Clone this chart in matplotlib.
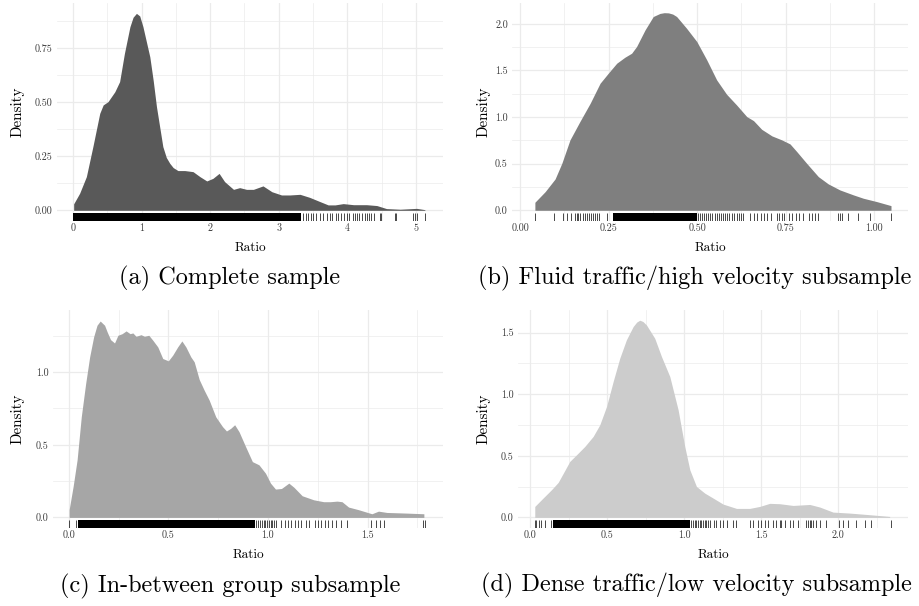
import numpy as np
import matplotlib.pyplot as plt
from matplotlib.transforms import blended_transform_factory

plt.rcParams['font.family'] = 'cmr10'
plt.rcParams['axes.formatter.use_mathtext'] = True

# (a) complete sample
a_x = [0.01, 0.097, 0.195, 0.29, 0.39, 0.44, 0.51, 0.61, 0.68, 0.75, 0.83, 0.876, 0.925, 0.973,
       1.02, 1.12, 1.17, 1.217, 1.31, 1.36, 1.41, 1.46, 1.53, 1.63, 1.75, 1.85, 1.95, 2.04,
       2.13, 2.21, 2.34, 2.43, 2.53, 2.63, 2.77, 2.9, 3.04, 3.16, 3.31, 3.45, 3.58, 3.72,
       3.82, 3.94, 4.09, 4.28, 4.43, 4.57, 4.77, 5.01, 5.13]
a_y = [0.03, 0.079, 0.156, 0.295, 0.449, 0.488, 0.503, 0.549, 0.596, 0.727, 0.85, 0.894, 0.912,
       0.9, 0.85, 0.711, 0.60, 0.48, 0.295, 0.245, 0.218, 0.198, 0.184, 0.184, 0.179, 0.156,
       0.136, 0.148, 0.171, 0.133, 0.097, 0.105, 0.097, 0.097, 0.113, 0.086, 0.071, 0.071,
       0.074, 0.060, 0.043, 0.025, 0.025, 0.031, 0.026, 0.026, 0.022, 0.008, 0.005, 0.009,
       0.003]
a_rug_bands = [(0.0, 3.33)]
a_rug = [3.36, 3.39, 3.43, 3.47, 3.50, 3.54, 3.60, 3.65, 3.70, 3.75, 3.78, 3.83, 3.87, 3.91,
         3.95, 3.99, 4.03, 4.08, 4.11, 4.14, 4.17, 4.21, 4.25, 4.28, 4.32, 4.34, 4.39, 4.47,
         4.49, 4.69, 4.71, 4.96, 4.98, 5.01, 5.13]

# (b) fluid traffic / high velocity
b_x = [0.042, 0.071, 0.099, 0.118, 0.141, 0.169, 0.198, 0.226, 0.249, 0.273, 0.296, 0.315,
       0.329, 0.353, 0.376, 0.395, 0.407, 0.419, 0.431, 0.442, 0.47, 0.499, 0.527, 0.555,
       0.583, 0.611, 0.64, 0.659, 0.682, 0.711, 0.739, 0.762, 0.781, 0.809, 0.842, 0.870,
       0.903, 0.941, 0.969, 1.007, 1.047]
b_y = [0.086, 0.20, 0.336, 0.504, 0.755, 0.952, 1.148, 1.363, 1.47, 1.578, 1.642, 1.685,
       1.757, 1.936, 2.079, 2.112, 2.12, 2.118, 2.105, 2.079, 1.953, 1.81, 1.614, 1.399,
       1.245, 1.131, 1.005, 0.962, 0.869, 0.798, 0.755, 0.712, 0.630, 0.504, 0.361, 0.283,
       0.218, 0.165, 0.129, 0.093, 0.05]
b_rug_bands = [(0.263, 0.499)]
b_rug = [0.042, 0.097, 0.120, 0.134, 0.144, 0.155, 0.160, 0.165, 0.169, 0.177, 0.184, 0.188,
         0.195, 0.200, 0.207, 0.213, 0.218, 0.224, 0.245, 0.503, 0.509, 0.514, 0.52, 0.526,
         0.531, 0.537, 0.543, 0.549, 0.556, 0.561, 0.567, 0.574, 0.579, 0.585, 0.591, 0.598,
         0.604, 0.611, 0.618, 0.624, 0.630, 0.649, 0.659, 0.670, 0.679, 0.689, 0.698, 0.708,
         0.724, 0.732, 0.739, 0.745, 0.760, 0.769, 0.779, 0.788, 0.799, 0.816, 0.823, 0.832,
         0.842, 0.898, 0.903, 0.910, 0.927, 0.955, 0.988, 1.047]

# (c) in-between group
c_x = [0.002, 0.022, 0.042, 0.063, 0.085, 0.105, 0.125, 0.142, 0.158, 0.18, 0.193, 0.21, 0.23,
       0.247, 0.268, 0.288, 0.308, 0.322, 0.338, 0.363, 0.38, 0.402, 0.422, 0.447, 0.472,
       0.5, 0.522, 0.547, 0.568, 0.588, 0.613, 0.63, 0.655, 0.68, 0.705, 0.738, 0.772, 0.792,
       0.813, 0.833, 0.855, 0.888, 0.922, 0.955, 0.988, 1.013, 1.038, 1.068, 1.105, 1.13,
       1.172, 1.23, 1.28, 1.313, 1.347, 1.372, 1.405, 1.455, 1.522, 1.555, 1.597, 1.688, 1.783]
c_y = [0.053, 0.213, 0.396, 0.693, 0.922, 1.105, 1.243, 1.323, 1.352, 1.323, 1.277, 1.224,
       1.201, 1.254, 1.265, 1.284, 1.265, 1.27, 1.247, 1.258, 1.247, 1.254, 1.22, 1.174,
       1.094, 1.078, 1.117, 1.174, 1.215, 1.174, 1.105, 1.071, 0.95, 0.876, 0.808, 0.693,
       0.625, 0.595, 0.613, 0.638, 0.59, 0.487, 0.384, 0.362, 0.304, 0.236, 0.195, 0.199,
       0.236, 0.208, 0.149, 0.121, 0.108, 0.108, 0.112, 0.108, 0.071, 0.053, 0.025, 0.043,
       0.034, 0.030, 0.025]
c_rug_bands = [(0.047, 0.934)]
c_rug = [0.003, 0.038, 0.942, 0.951, 0.96, 0.969, 0.978, 0.987, 0.996, 1.005, 1.014, 1.023,
         1.033, 1.043, 1.068, 1.084, 1.101, 1.118, 1.134, 1.151, 1.168, 1.193, 1.205, 1.235,
         1.252, 1.268, 1.285, 1.302, 1.324, 1.344, 1.365, 1.399, 1.519, 1.545, 1.561, 1.583,
         1.779, 1.787]

# (d) dense traffic / low velocity
d_x = [0.028, 0.082, 0.136, 0.18, 0.223, 0.255, 0.299, 0.353, 0.407, 0.45, 0.494, 0.537, 0.58,
       0.623, 0.667, 0.69, 0.71, 0.73, 0.753, 0.807, 0.851, 0.905, 0.959, 1.002, 1.035,
       1.078, 1.132, 1.186, 1.251, 1.338, 1.424, 1.489, 1.554, 1.619, 1.706, 1.814, 1.879,
       1.965, 2.074, 2.182, 2.333]
d_y = [0.089, 0.157, 0.224, 0.284, 0.381, 0.454, 0.508, 0.576, 0.657, 0.751, 0.9, 1.103,
       1.292, 1.441, 1.549, 1.585, 1.6, 1.59, 1.562, 1.454, 1.305, 1.143, 0.873, 0.576,
       0.386, 0.251, 0.197, 0.157, 0.108, 0.073, 0.073, 0.089, 0.114, 0.111, 0.097, 0.105,
       0.084, 0.043, 0.035, 0.024, 0.008]
d_rug_bands = [(0.147, 1.034)]
d_rug = [0.028, 0.039, 0.056, 0.071, 0.093, 0.136, 1.045, 1.056, 1.067, 1.078, 1.089, 1.10,
         1.110, 1.121, 1.132, 1.143, 1.153, 1.164, 1.19, 1.207, 1.229, 1.251, 1.277, 1.316,
         1.338, 1.424, 1.446, 1.478, 1.5, 1.521, 1.543, 1.576, 1.597, 1.619, 1.630, 1.651,
         1.684, 1.706, 1.738, 1.792, 1.803, 1.814, 1.824, 1.835, 1.853, 1.878, 1.922, 2.004,
         2.030, 2.063, 2.117, 2.171, 2.214, 2.34]

captions = ['(a) Complete sample', '(b) Fluid traffic/high velocity subsample',
            '(c) In-between group subsample', '(d) Dense traffic/low velocity subsample']

W, H = 919, 606
fig = plt.figure(figsize=(W / 100, H / 100), dpi=100)


def fx(p):
    return p / W


def fy(p):
    return 1 - p / H


panels = [
    dict(x=a_x, y=a_y, bands=a_rug_bands, rug=a_rug, fill='#595959', box=(57, 3, 443, 221),
         xlim=(-0.233, 5.394), ylim=(-0.0495, 0.96),
         xt=[0, 1, 2, 3, 4, 5], xl=['0', '1', '2', '3', '4', '5'], xm=np.arange(0.5, 5.5, 1.0),
         yt=[0, 0.25, 0.5, 0.75], yl=['0.00', '0.25', '0.50', '0.75'],
         ym=[0.125, 0.375, 0.625, 0.875], cap_pos=(230, 278), ylab_x=18),
    dict(x=b_x, y=b_y, bands=b_rug_bands, rug=b_rug, fill='#7f7f7f', box=(512, 3, 908, 221),
         xlim=(-0.0226, 1.095), ylim=(-0.115, 2.224),
         xt=[0, 0.25, 0.5, 0.75, 1.0], xl=['0.00', '0.25', '0.50', '0.75', '1.00'],
         xm=[0.125, 0.375, 0.625, 0.875], yt=[0, 0.5, 1.0, 1.5, 2.0],
         yl=['0.0', '0.5', '1.0', '1.5', '2.0'], ym=[0.25, 0.75, 1.25, 1.75],
         cap_pos=(695, 278), ylab_x=484),
    dict(x=c_x, y=c_y, bands=c_rug_bands, rug=c_rug, fill='#a6a6a6', box=(53, 310, 443, 528),
         xlim=(-0.079, 1.879), ylim=(-0.073, 1.428),
         xt=[0, 0.5, 1.0, 1.5], xl=['0.0', '0.5', '1.0', '1.5'], xm=[0.25, 0.75, 1.25, 1.75],
         yt=[0, 0.5, 1.0], yl=['0.0', '0.5', '1.0'], ym=[0.25, 0.75, 1.25],
         cap_pos=(230, 586), ylab_x=18),
    dict(x=d_x, y=d_y, bands=d_rug_bands, rug=d_rug, fill='#cccccc', box=(518, 310, 908, 528),
         xlim=(-0.081, 2.452), ylim=(-0.086, 1.683),
         xt=[0, 0.5, 1.0, 1.5, 2.0], xl=['0.0', '0.5', '1.0', '1.5', '2.0'],
         xm=[0.25, 0.75, 1.25, 1.75, 2.25], yt=[0, 0.5, 1.0, 1.5],
         yl=['0.0', '0.5', '1.0', '1.5'], ym=[0.25, 0.75, 1.25],
         cap_pos=(696, 585), ylab_x=484),
]

grid_col = '#ebebeb'
for p, caption in zip(panels, captions):
    l, t, r, b = p['box']
    ax = fig.add_axes([fx(l), fy(b), fx(r) - fx(l), (b - t) / H])
    ax.set_xlim(*p['xlim'])
    ax.set_ylim(*p['ylim'])
    for s in ax.spines.values():
        s.set_visible(False)
    ax.set_xticks(p['xt'], p['xl'])
    ax.set_yticks(p['yt'], p['yl'])
    ax.tick_params(length=0, labelsize=7.2, labelcolor='#3a3a3a')
    ax.tick_params(axis='x', pad=2.0)
    ax.tick_params(axis='y', pad=3)
    for v in p['xt']:
        ax.axvline(v, color=grid_col, lw=0.9, zorder=0)
    for v in p['xm']:
        ax.axvline(v, color=grid_col, lw=0.5, zorder=0)
    for v in p['yt']:
        ax.axhline(v, color=grid_col, lw=0.9, zorder=0)
    for v in p['ym']:
        ax.axhline(v, color=grid_col, lw=0.5, zorder=0)

    ax.fill_between(p['x'], 0, p['y'], color=p['fill'], lw=0, zorder=2)

    # rug: solid stretches where ticks merge, single ticks elsewhere
    trans = blended_transform_factory(ax.transData, ax.transAxes)
    for x0, x1 in p['bands']:
        ax.axvspan(x0, x1, ymin=0, ymax=0.037, color='black', lw=0, zorder=3)
    ax.vlines(p['rug'], 0, 0.037, transform=trans, color='black', lw=0.5, zorder=3)

    fig.text(fx(p['ylab_x']), fy((t + b) / 2), 'Density', rotation=90,
             ha='center', va='center', fontsize=10.9)
    fig.text(fx((l + r) / 2), fy(b + 27), 'Ratio', ha='center', va='center', fontsize=9.5)
    fig.text(fx(p['cap_pos'][0]), fy(p['cap_pos'][1]), caption,
             ha='center', va='center', fontsize=17.5)

fig.savefig('out.png', dpi=100)
